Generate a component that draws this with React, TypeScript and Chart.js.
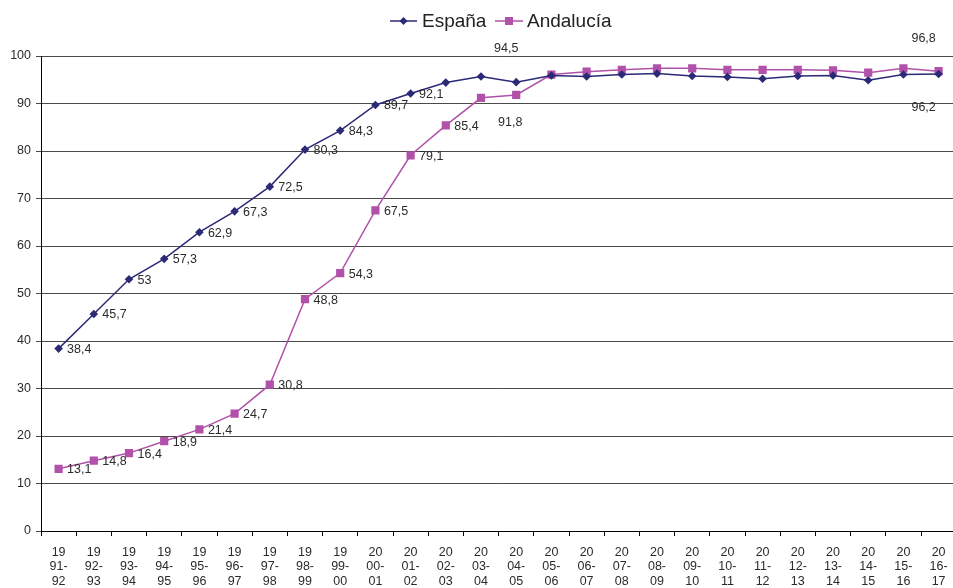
import React, { useEffect, useRef } from "react";
import { Chart, registerables } from "chart.js";

Chart.register(...registerables);

const categories = [
  "1991-92", "1992-93", "1993-94", "1994-95", "1995-96", "1996-97", "1997-98",
  "1998-99", "1999-00", "2000-01", "2001-02", "2002-03", "2003-04", "2004-05",
  "2005-06", "2006-07", "2007-08", "2008-09", "2009-10", "2010-11", "2011-12",
  "2012-13", "2013-14", "2014-15", "2015-16", "2016-17",
];

const espana = [
  38.4, 45.7, 53, 57.3, 62.9, 67.3, 72.5, 80.3, 84.3, 89.7, 92.1, 94.4, 95.7,
  94.5, 95.9, 95.7, 96.1, 96.3, 95.8, 95.6, 95.2, 95.8, 95.9, 94.9, 96.1, 96.2,
];

const andalucia = [
  13.1, 14.8, 16.4, 18.9, 21.4, 24.7, 30.8, 48.8, 54.3, 67.5, 79.1, 85.4, 91.2,
  91.8, 96.1, 96.7, 97.1, 97.4, 97.4, 97.1, 97.1, 97.1, 97.0, 96.5, 97.4, 96.8,
];

const seriesNames = ["España", "Andalucía"];
const yTicks = { min: 0, max: 100, step: 10 };

// indices that carry a data label
const espanaLabelIdx = [0, 1, 2, 3, 4, 5, 6, 7, 8, 9, 10, 13, 25];
const andaluciaLabelIdx = [0, 1, 2, 3, 4, 5, 6, 7, 8, 9, 10, 11, 13, 25];

const FONT = "'Liberation Sans', Arial, sans-serif";
const NAVY = "#2B2A77";
const MAGENTA = "#B251A9";

// placement overrides for a few labels (dx, dy from the point, centred)
const labelOverrides: Record<string, { dx: number; dy: number }> = {
  "0-13": { dx: -10, dy: -34 },
  "1-13": { dx: -6, dy: 28 },
  "1-25": { dx: -15, dy: -33 },
  "0-25": { dx: -15, dy: 33 },
};

const fmt = (v: number) => String(v).replace(".", ",");

const dataLabelPlugin = {
  id: "dataLabels",
  afterDatasetsDraw(chart: any) {
    const ctx = chart.ctx;
    ctx.save();
    ctx.font = `12.5px ${FONT}`;
    ctx.fillStyle = "#2b2b2b";
    const lists = [espanaLabelIdx, andaluciaLabelIdx];
    chart.data.datasets.forEach((ds: any, di: number) => {
      const meta = chart.getDatasetMeta(di);
      lists[di].forEach((i) => {
        const el = meta.data[i];
        if (!el) return;
        const text = fmt(ds.data[i]);
        const ov = labelOverrides[`${di}-${i}`];
        ctx.textBaseline = "middle";
        if (ov) {
          ctx.textAlign = "center";
          ctx.fillText(text, el.x + ov.dx, el.y + ov.dy);
        } else {
          ctx.textAlign = "left";
          ctx.fillText(text, el.x + 8.5, el.y + 1);
        }
      });
    });
    ctx.restore();
  },
};

const legendPlugin = {
  id: "customLegend",
  afterDraw(chart: any) {
    const ctx = chart.ctx;
    ctx.save();
    const y = 21;
    const items = [
      { x0: 390, x1: 417, text: seriesNames[0], color: NAVY, style: "diamond", tx: 422 },
      { x0: 495, x1: 523, text: seriesNames[1], color: MAGENTA, style: "square", tx: 527 },
    ];
    items.forEach((it) => {
      ctx.strokeStyle = it.color;
      ctx.lineWidth = 1.5;
      ctx.beginPath();
      ctx.moveTo(it.x0, y);
      ctx.lineTo(it.x1, y);
      ctx.stroke();
      ctx.fillStyle = it.color;
      const cx = (it.x0 + it.x1) / 2;
      if (it.style === "diamond") {
        ctx.beginPath();
        ctx.moveTo(cx, y - 4);
        ctx.lineTo(cx + 4, y);
        ctx.lineTo(cx, y + 4);
        ctx.lineTo(cx - 4, y);
        ctx.closePath();
        ctx.fill();
      } else {
        ctx.fillRect(cx - 4, y - 4, 8, 8);
      }
      ctx.font = `19px ${FONT}`;
      ctx.fillStyle = "#222";
      ctx.textAlign = "left";
      ctx.textBaseline = "middle";
      ctx.fillText(it.text, it.tx, y + 1);
    });
    ctx.restore();
  },
};

export default function App() {
  const canvasRef = useRef<HTMLCanvasElement | null>(null);

  useEffect(() => {
    if (!canvasRef.current) return;
    const chart = new Chart(canvasRef.current, {
      type: "line",
      data: {
        labels: categories.map((c) => {
          const [a, b] = c.split("-");
          return [a.slice(0, 2), a.slice(2) + "-", b];
        }),
        datasets: [
          {
            label: seriesNames[0],
            data: espana,
            borderColor: NAVY,
            backgroundColor: NAVY,
            borderWidth: 1.5,
            pointStyle: "rectRot",
            pointRadius: 4.3,
            pointBorderWidth: 0,
            pointBackgroundColor: NAVY,
            tension: 0,
          },
          {
            label: seriesNames[1],
            data: andalucia,
            borderColor: MAGENTA,
            backgroundColor: MAGENTA,
            borderWidth: 1.5,
            pointStyle: "rect",
            pointRadius: 5.8,
            pointBorderWidth: 0,
            pointBackgroundColor: MAGENTA,
            tension: 0,
          },
        ],
      },
      options: {
        responsive: true,
        maintainAspectRatio: false,
        animation: false,
        layout: { padding: { top: 56, right: 2, bottom: 0, left: 0 } },
        plugins: {
          legend: { display: false },
          tooltip: { enabled: false },
        },
        scales: {
          x: {
            type: "category",
            offset: true,
            grid: {
              offset: true,
              drawOnChartArea: false,
              drawTicks: true,
              tickLength: 5,
              color: "#000",
            },
            border: { color: "#000", width: 1 },
            ticks: {
              autoSkip: false,
              maxRotation: 0,
              padding: 9,
              color: "#2b2b2b",
              font: { family: FONT, size: 12.5, lineHeight: 1.17 },
            },
            afterFit: (s: any) => {
              s.height = 57;
            },
          },
          y: {
            min: yTicks.min,
            max: yTicks.max,
            ticks: {
              stepSize: yTicks.step,
              padding: 5,
              color: "#2b2b2b",
              font: { family: FONT, size: 12.5 },
            },
            grid: { color: "#4a4a4a", tickLength: 5, lineWidth: 1 },
            border: { color: "#000", width: 1 },
            afterFit: (s: any) => {
              s.width = 41;
            },
          },
        },
      },
      plugins: [dataLabelPlugin, legendPlugin],
    });
    return () => chart.destroy();
  }, []);

  return (
    <div
      style={{
        position: "fixed",
        left: 0,
        top: 0,
        width: 953,
        height: 588,
        overflow: "hidden",
        background: "#fff",
      }}
    >
      <div style={{ position: "relative", width: 962, height: 588 }}>
        <canvas ref={canvasRef} />
      </div>
    </div>
  );
}
